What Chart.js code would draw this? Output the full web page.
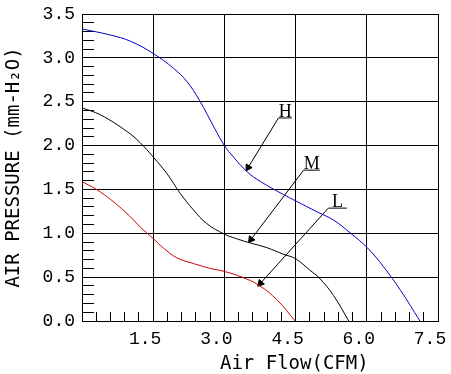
<!DOCTYPE html>
<html>
<head>
<meta charset="utf-8">
<script src="https://cdn.jsdelivr.net/npm/chart.js@4.4.1/dist/chart.umd.min.js"></script>
<style>
  html, body { margin: 0; padding: 0; background: #fff; }
  #wrap { width: 451px; height: 374px; }
</style>
</head>
<body>
<div id="wrap"><canvas id="fanChart"></canvas></div>
<script>
// curve H (blue)
const flowH  = [0, 0.6, 1.02, 1.5, 1.93, 2.21, 2.47, 2.8, 3.0, 3.19, 3.48, 3.76, 4.25, 4.5, 4.95, 5.3, 5.65, 6.02, 6.35, 6.71, 7.12];
const pressH = [3.33, 3.26, 3.19, 3.05, 2.88, 2.73, 2.52, 2.19, 2.0, 1.87, 1.70, 1.59, 1.44, 1.37, 1.245, 1.15, 1.005, 0.83, 0.62, 0.35, 0];

// curve M (black)
const flowM  = [0, 0.39, 0.95, 1.23, 1.5, 1.79, 2.07, 2.35, 2.63, 3.0, 3.19, 3.51, 3.9, 4.25, 4.5, 4.8, 5.0, 5.3, 5.62];
const pressM = [2.43, 2.35, 2.16, 2.03, 1.87, 1.68, 1.455, 1.265, 1.11, 0.99, 0.95, 0.895, 0.835, 0.76, 0.71, 0.58, 0.49, 0.29, 0];

// curve L (red)
const flowL  = [0, 0.39, 0.91, 1.23, 1.5, 1.72, 2.0, 2.35, 2.7, 3.0, 3.37, 3.72, 4.11, 4.49];
const pressL = [1.59, 1.47, 1.245, 1.07, 0.94, 0.83, 0.72, 0.655, 0.6, 0.565, 0.5, 0.41, 0.24, 0];

// H / M / L tags with leader arrows
const tagNames  = ['H', 'M', 'L'];
const tagRight  = [4.42, 5.01, 5.58];
const tagLeft   = [4.14, 4.67, 5.19];
const tagPress  = [2.315, 1.72, 1.287];
const arrowFlow = [3.50, 3.56, 3.76];
const arrowPress = [1.75, 0.93, 0.43];

const xTitle = '      Air Flow(CFM)';
const yTitle = 'AIR PRESSURE (mm-H₂O)';

const toPoints = (xs, ys) => xs.map((v, i) => ({ x: v, y: ys[i] }));

function curve(label, xs, ys, color) {
    return {
        label,
        data: toPoints(xs, ys),
        borderColor: color,
        borderWidth: 1,
        pointRadius: 0,
        fill: false,
        tension: 0.4
    };
}

function arrowAngle(ctx) {
    const ch = ctx.chart;
    const pts = ch.data.datasets[ctx.datasetIndex].data;
    const a = pts[pts.length - 2], b = pts[pts.length - 1];
    const dx = ch.scales.x.getPixelForValue(b.x) - ch.scales.x.getPixelForValue(a.x);
    const dy = ch.scales.y.getPixelForValue(b.y) - ch.scales.y.getPixelForValue(a.y);
    return Math.atan2(dx, -dy) * 180 / Math.PI;
}

const leaders = tagNames.map((name, i) => ({
    label: 'tag ' + name,
    data: [
        { x: tagRight[i], y: tagPress[i] },
        { x: tagLeft[i], y: tagPress[i] },
        { x: arrowFlow[i], y: arrowPress[i] }
    ],
    borderColor: '#000',
    borderWidth: 1,
    tension: 0,
    pointRadius: [0, 0, 4],
    pointStyle: 'triangle',
    pointBackgroundColor: '#000',
    pointBorderColor: '#000',
    pointBorderWidth: 1,
    pointRotation: arrowAngle
}));

const tagText = {
    id: 'tagText',
    afterDatasetsDraw(chart) {
        const { ctx, scales: { x, y } } = chart;
        ctx.save();
        ctx.font = '18px "Liberation Serif"';
        ctx.fillStyle = '#000';
        ctx.textAlign = 'center';
        ctx.textBaseline = 'alphabetic';
        tagNames.forEach((name, i) => {
            const px = x.getPixelForValue((tagLeft[i] + tagRight[i]) / 2);
            const py = y.getPixelForValue(tagPress[i]);
            ctx.fillText(name, px, py - 1);
        });
        ctx.restore();
    }
};

const tickFont = { family: '"Liberation Mono", monospace', size: 18 };
const titleFont = { family: '"DejaVu Sans Mono", monospace', size: 19, lineHeight: 1 };

new Chart(document.getElementById('fanChart'), {
    type: 'line',
    data: {
        datasets: [
            curve('H', flowH, pressH, '#0000c8'),
            curve('M', flowM, pressM, '#000000'),
            curve('L', flowL, pressL, '#d00000'),
            ...leaders
        ]
    },
    options: {
        responsive: true,
        maintainAspectRatio: false,
        animation: false,
        events: [],
        layout: { padding: { top: 14, right: 13, left: 0, bottom: 0 } },
        plugins: { legend: { display: false }, tooltip: { enabled: false } },
        scales: {
            x: {
                type: 'linear',
                position: 'bottom',
                weight: 1,
                min: 0,
                max: 7.5,
                ticks: {
                    stepSize: 1.5,
                    padding: 7,
                    labelOffset: -8,
                    maxRotation: 0,
                    autoSkip: false,
                    color: '#000',
                    font: tickFont,
                    callback: v => v === 0 ? '' : v.toFixed(1)
                },
                grid: { color: '#000', lineWidth: 1, drawTicks: false },
                border: { color: '#000', width: 1 },
                title: { display: true, text: xTitle, color: '#000', font: titleFont, padding: { top: 0, bottom: 0 } },
                afterFit(s) { s.height = 53; s.paddingLeft = 0; s.paddingRight = 0; }
            },
            xMinor: {
                type: 'linear',
                position: 'bottom',
                weight: 0,
                min: 0,
                max: 7.5,
                ticks: { display: false, stepSize: 0.3 },
                grid: { color: '#000', lineWidth: 1, drawOnChartArea: false, drawTicks: true, tickLength: -9 },
                border: { display: false },
                afterFit(s) { s.height = 0; s.paddingLeft = 0; s.paddingRight = 0; }
            },
            y: {
                type: 'linear',
                position: 'left',
                weight: 1,
                min: 0,
                max: 3.5,
                ticks: {
                    stepSize: 0.5,
                    padding: 7,
                    color: '#000',
                    font: tickFont,
                    callback: v => v.toFixed(1)
                },
                grid: { color: '#000', lineWidth: 1, drawTicks: false },
                border: { color: '#000', width: 1 },
                title: { display: true, text: yTitle, color: '#000', font: titleFont, padding: { top: 5, bottom: 0 } },
                afterFit(s) { s.width = 82; s.paddingTop = 0; s.paddingBottom = 0; }
            },
            yMinor: {
                type: 'linear',
                position: 'left',
                weight: 0,
                min: 0,
                max: 3.5,
                ticks: { display: false, stepSize: 0.1 },
                grid: { color: '#000', lineWidth: 1, drawOnChartArea: false, drawTicks: true, tickLength: -12 },
                border: { display: false },
                afterFit(s) { s.width = 0; s.paddingTop = 0; s.paddingBottom = 0; }
            }
        }
    },
    plugins: [tagText]
});
</script>
</body>
</html>
